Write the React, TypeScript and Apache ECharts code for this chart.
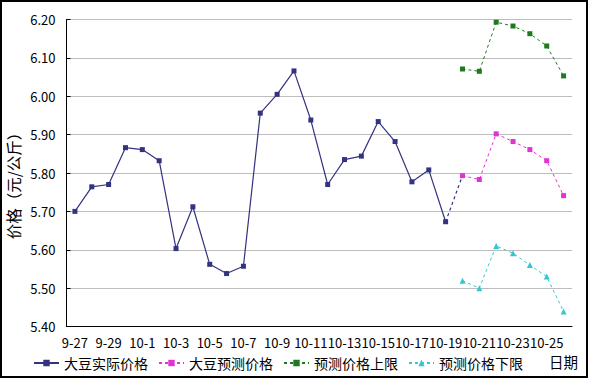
import React, { useEffect, useRef } from "react";
import * as echarts from "echarts";

const categories = [
  "9-27", "9-28", "9-29", "9-30",
  "10-1", "10-2", "10-3", "10-4", "10-5", "10-6", "10-7", "10-8", "10-9", "10-10",
  "10-11", "10-12", "10-13", "10-14", "10-15", "10-16", "10-17", "10-18", "10-19",
  "10-20", "10-21", "10-22", "10-23", "10-24", "10-25", "10-26",
];

const N = null;
const actualPrice = [
  5.70, 5.764, 5.77, 5.866, 5.861, 5.832, 5.603, 5.712, 5.562, 5.538, 5.557, 5.956,
  6.005, 6.066, 5.938, 5.77, 5.835, 5.844, 5.934, 5.882, 5.777, 5.808, 5.673,
  N, N, N, N, N, N, N,
];
const connector = [
  N, N, N, N, N, N, N, N, N, N, N, N, N, N, N, N, N, N, N, N, N, N,
  5.673, 5.793, N, N, N, N, N, N,
];
const forecastPrice = [
  N, N, N, N, N, N, N, N, N, N, N, N, N, N, N, N, N, N, N, N, N, N, N,
  5.793, 5.783, 5.902, 5.882, 5.861, 5.832, 5.741,
];
const upperLimit = [
  N, N, N, N, N, N, N, N, N, N, N, N, N, N, N, N, N, N, N, N, N, N, N,
  6.071, 6.065, 6.193, 6.183, 6.163, 6.131, 6.053,
];
const lowerLimit = [
  N, N, N, N, N, N, N, N, N, N, N, N, N, N, N, N, N, N, N, N, N, N, N,
  5.519, 5.50, 5.61, 5.591, 5.56, 5.53, 5.439,
];

const seriesNames = ["大豆实际价格", "大豆预测价格", "预测价格上限", "预测价格下限"];
const yAxisTitle = "价格（元/公斤）";
const xAxisTitle = "日期";

const FONT = "'Noto Sans CJK SC', 'Noto Sans', sans-serif";

export default function App() {
  const ref = useRef<HTMLDivElement>(null);
  useEffect(() => {
    if (!ref.current) return;
    const chart = echarts.init(ref.current, null, { renderer: "svg" });
    const dash = [3, 3];
    chart.setOption({
      animation: false,
      backgroundColor: "#ffffff",
      textStyle: { fontFamily: FONT },
      grid: { left: 66.5, right: 17, top: 19.5, bottom: 52.5, containLabel: false },
      legend: {
        left: 28,
        top: 351,
        itemWidth: 25,
        itemHeight: 8,
        itemGap: 10,
        textStyle: { fontSize: 14, color: "#000", fontFamily: FONT },
        data: seriesNames,
      },
      xAxis: {
        type: "category",
        data: categories,
        boundaryGap: true,
        axisLine: { lineStyle: { color: "#000", width: 1 } },
        axisTick: { inside: true, length: 4, interval: 1, lineStyle: { color: "#000" } },
        axisLabel: { interval: 1, margin: 9, fontSize: 13, color: "#000", fontFamily: FONT },
        splitLine: { show: false },
      },
      yAxis: {
        type: "value",
        min: 5.4,
        max: 6.2,
        interval: 0.1,
        axisLine: { show: true, lineStyle: { color: "#000", width: 1 } },
        axisTick: { show: true, inside: true, length: 4, lineStyle: { color: "#000" } },
        axisLabel: {
          margin: 11,
          fontSize: 13,
          color: "#000",
          fontFamily: FONT,
          formatter: (v: number) => v.toFixed(2),
        },
        splitLine: { show: true, lineStyle: { color: "#bdbdbd", width: 1 } },
      },
      series: [
        {
          name: seriesNames[0],
          type: "line",
          data: actualPrice,
          symbol: "rect",
          symbolSize: 5,
          color: "#333380",
          lineStyle: { color: "#333380", width: 1.2 },
          itemStyle: { color: "#333380" },
          connectNulls: false,
        },
        {
          name: "connector",
          type: "line",
          data: connector,
          symbol: "none",
          lineStyle: { color: "#333380", width: 1.2, type: dash },
          connectNulls: false,
          legendHoverLink: false,
        },
        {
          name: seriesNames[1],
          type: "line",
          data: forecastPrice,
          symbol: "rect",
          symbolSize: 5,
          color: "#e033d0",
          lineStyle: { color: "#e033d0", width: 1, type: dash },
          itemStyle: { color: "#e033d0" },
        },
        {
          name: seriesNames[2],
          type: "line",
          data: upperLimit,
          symbol: "rect",
          symbolSize: 5,
          color: "#1f7a1f",
          lineStyle: { color: "#1f7a1f", width: 1, type: dash },
          itemStyle: { color: "#1f7a1f" },
        },
        {
          name: seriesNames[3],
          type: "line",
          data: lowerLimit,
          symbol: "triangle",
          symbolSize: 6,
          color: "#33c8d0",
          lineStyle: { color: "#33c8d0", width: 1, type: dash },
          itemStyle: { color: "#33c8d0" },
        },
      ],
      graphic: [
        {
          type: "text",
          x: 13,
          y: 182,
          rotation: Math.PI / 2,
          style: {
            text: yAxisTitle,
            fontSize: 15.5,
            fontFamily: FONT,
            fill: "#000",
            align: "center",
            verticalAlign: "middle",
          },
        },
        {
          type: "text",
          x: 549,
          y: 361,
          style: {
            text: xAxisTitle,
            fontSize: 14.5,
            fontFamily: FONT,
            fill: "#000",
            align: "left",
            verticalAlign: "middle",
          },
        },
        {
          type: "rect",
          shape: { x: 1, y: 1, width: 586, height: 376 },
          style: { fill: "none", stroke: "#000", lineWidth: 2 },
          silent: true,
        },
      ],
    });
    return () => chart.dispose();
  }, []);
  return (
    <div
      ref={ref}
      style={{ position: "fixed", left: 0, top: 0, width: 589, height: 379 }}
    />
  );
}
